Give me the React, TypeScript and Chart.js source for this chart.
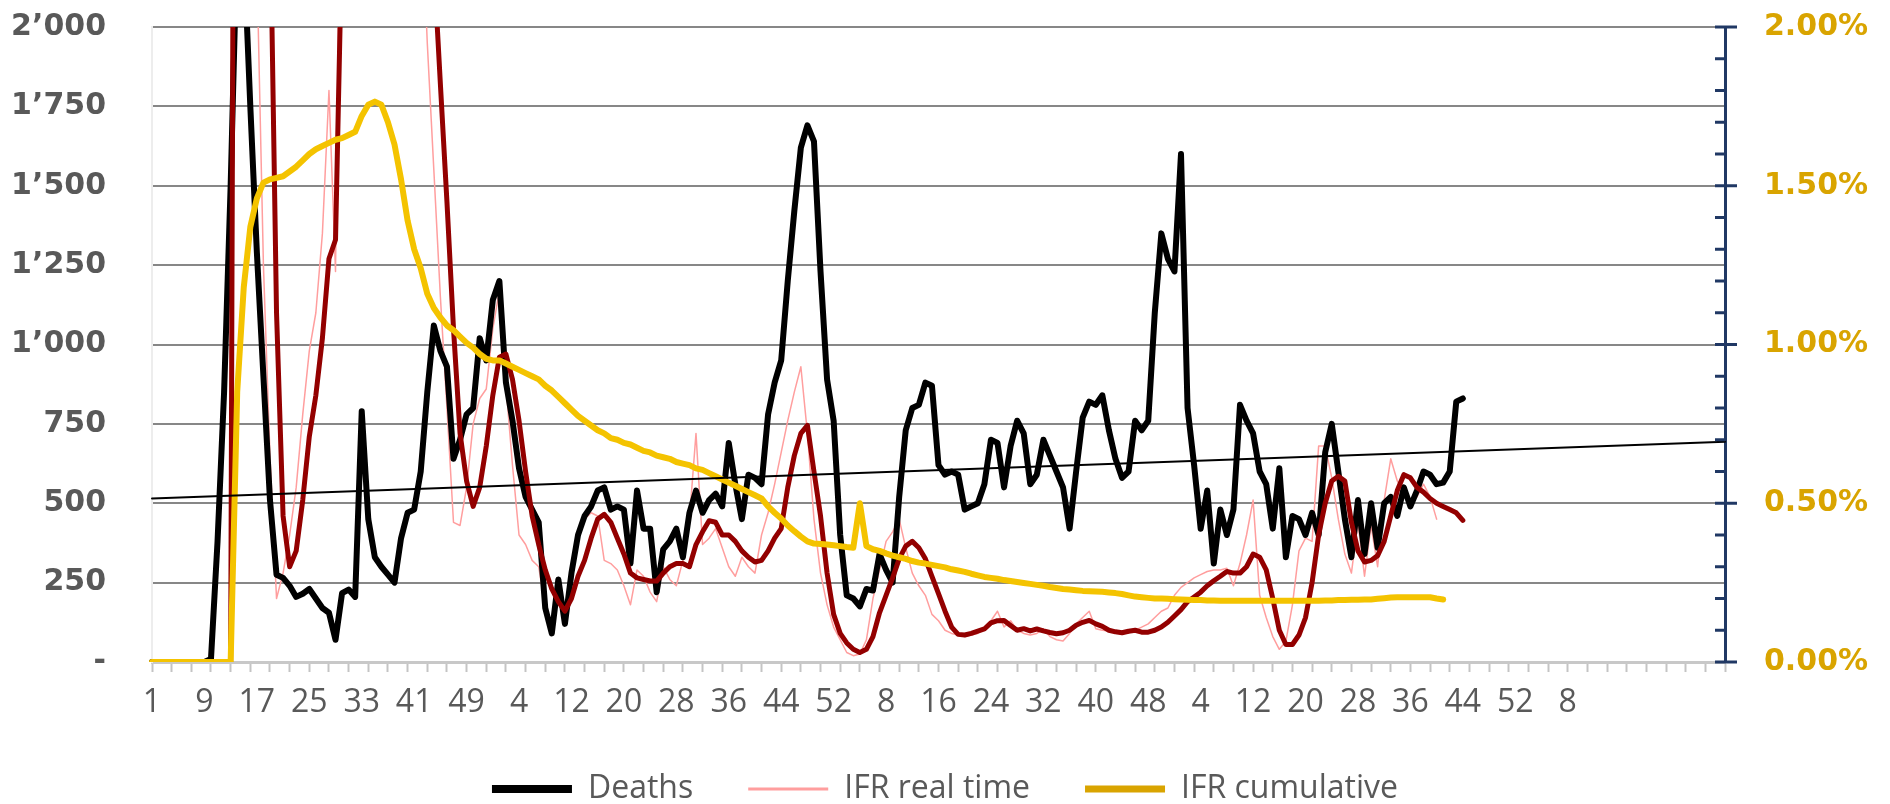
import React, { useEffect, useRef } from "react";
import { Chart, registerables } from "chart.js";

Chart.register(...registerables);

// ---------------- data ----------------
// weekly categories: 2020 (53 weeks), 2021, 2022, 2023 (52 weeks), 2024 up to week 8, then blank slots
const weeksPerYear = [53, 52, 52, 52, 8];
const trailingBlankCategories = 24;
const labelInterval = 8;
const tickMarkInterval = 3;

const categories: string[] = [
  ...weeksPerYear.flatMap((n) => Array.from({ length: n }, (_, k) => String(k + 1))),
  ...Array(trailingBlankCategories).fill(""),
];

// Deaths per week (left axis)
const deaths = [
  0, 0, 0, 0, 0, 0, 0, 0, 0, 10,
  380, 850, 1500, 2300, 2250, 1750, 1290, 900, 510, 275,
  265, 240, 205, 215, 230, 200, 170, 155, 70, 217,
  228, 205, 790, 450, 330, 300, 275, 250, 390, 470,
  480, 600, 850, 1060, 980, 930, 640, 700, 780, 800,
  1020, 950, 1140, 1200, 880, 760, 610, 520, 480, 440,
  170, 90, 260, 120, 280, 400, 460, 490, 540, 550,
  480, 490, 480, 310, 540, 420, 420, 220, 355, 380,
  420, 330, 470, 540, 470, 510, 530, 490, 690, 560,
  450, 590, 580, 560, 780, 880, 950, 1200, 1420, 1620,
  1690, 1640, 1230, 890, 760, 400, 210, 200, 175, 230,
  225, 340, 290, 250, 520, 730, 800, 810, 880, 870,
  620, 590, 600, 590, 480, 490, 500, 560, 700, 690,
  550, 680, 760, 720, 560, 590, 700, 650, 600, 550,
  420, 600, 770, 820, 810, 840, 730, 640, 580, 600,
  760, 730, 760, 1100, 1350, 1270, 1230, 1600, 800, 620,
  420, 540, 310, 480, 400, 480, 810, 760, 720, 600,
  560, 420, 610, 330, 460, 450, 400, 470, 400, 660,
  750, 600, 450, 330, 510, 340, 500, 360, 500, 520,
  460, 550, 490, 540, 600, 590, 560, 565, 600, 820,
  830,
];

// IFR real time, % (right axis)
const ifrRealTime = [
  0, 0, 0, 0, 0, 0, 0, 0, 0, 0,
  0, 0, 0, 8, 6, 4, 2.2, 1.25, 0.65, 0.2,
  0.28, 0.4, 0.55, 0.78, 0.98, 1.1, 1.35, 1.8, 1.23, 3,
  3, 3, 3, 3, 3, 3, 3, 3, 3, 3,
  3, 2.45, 1.95, 1.55, 1.15, 0.8, 0.44, 0.43, 0.55, 0.75,
  0.83, 0.86, 1.05, 1.17, 0.87, 0.62, 0.4, 0.37, 0.32, 0.3,
  0.17, 0.09, 0.25, 0.12, 0.28, 0.4, 0.45, 0.47, 0.46, 0.32,
  0.31, 0.29, 0.24, 0.18, 0.29, 0.27, 0.22, 0.19, 0.3, 0.26,
  0.24, 0.32, 0.45, 0.72, 0.37, 0.39, 0.42, 0.36, 0.3, 0.27,
  0.33, 0.3, 0.28, 0.4, 0.47, 0.56, 0.66, 0.76, 0.85, 0.93,
  0.72, 0.45, 0.28, 0.18, 0.11, 0.07, 0.03, 0.02, 0.025, 0.07,
  0.2, 0.29, 0.38, 0.41, 0.45, 0.36, 0.28, 0.24, 0.21, 0.15,
  0.13, 0.1, 0.09, 0.085, 0.08, 0.085, 0.09, 0.11, 0.13, 0.16,
  0.11, 0.13, 0.1, 0.09, 0.085, 0.09, 0.105, 0.08, 0.07, 0.066,
  0.09, 0.12, 0.14, 0.16, 0.105, 0.1, 0.098, 0.092, 0.092, 0.092,
  0.1, 0.11, 0.12, 0.14, 0.16, 0.17, 0.21, 0.235, 0.25, 0.265,
  0.275, 0.285, 0.29, 0.29, 0.295, 0.24, 0.31, 0.4, 0.51, 0.21,
  0.14, 0.08, 0.04, 0.065, 0.18, 0.35, 0.39, 0.38, 0.68, 0.68,
  0.58, 0.45, 0.34, 0.28, 0.44, 0.27, 0.43, 0.3, 0.51, 0.64,
  0.57, 0.54, 0.51, 0.52, 0.56, 0.52, 0.45,
];

// IFR real time, moving average, % (right axis)
const ifrRealTimeAvg = [
  0, 0, 0, 0, 0, 0, 0, 0, 0, 0,
  0, 0, 0, 6, 6, 5, 4, 3, 2.4, 1.1,
  0.46, 0.3, 0.35, 0.51, 0.71, 0.84, 1.02, 1.27, 1.33, 2.3,
  3, 3, 3, 3, 3, 3, 3, 3, 3, 3,
  3, 3, 3, 2.2, 1.82, 1.45, 1.05, 0.72, 0.57, 0.49,
  0.55, 0.68, 0.84, 0.96, 0.97, 0.89, 0.76, 0.6, 0.46, 0.37,
  0.29, 0.23, 0.19, 0.16, 0.2, 0.27, 0.32, 0.39, 0.45, 0.465,
  0.44, 0.39, 0.34, 0.28, 0.265, 0.26, 0.255, 0.255, 0.28, 0.3,
  0.31, 0.31, 0.3, 0.37, 0.41, 0.445, 0.44, 0.4, 0.4, 0.38,
  0.35, 0.33, 0.315, 0.32, 0.35, 0.39, 0.42, 0.55, 0.65, 0.72,
  0.745, 0.6, 0.46, 0.28, 0.15, 0.09, 0.06, 0.04, 0.03, 0.04,
  0.08, 0.155, 0.21, 0.265, 0.325, 0.365, 0.38, 0.36, 0.325, 0.27,
  0.215, 0.16, 0.11, 0.087, 0.085, 0.09, 0.097, 0.104, 0.123, 0.13,
  0.131, 0.115, 0.1, 0.105, 0.098, 0.104, 0.098, 0.093, 0.089, 0.092,
  0.1, 0.116, 0.125, 0.131, 0.12, 0.112, 0.1, 0.095, 0.092, 0.097,
  0.1, 0.094, 0.094, 0.1, 0.11, 0.125, 0.145, 0.165, 0.19, 0.205,
  0.22, 0.24, 0.256, 0.27, 0.285, 0.28, 0.28, 0.3, 0.34, 0.33,
  0.29, 0.2, 0.1, 0.055, 0.055, 0.085, 0.14, 0.25, 0.4, 0.5,
  0.57, 0.585, 0.57, 0.44, 0.35, 0.315, 0.32, 0.335, 0.38, 0.46,
  0.54, 0.59, 0.58, 0.55, 0.535, 0.515, 0.5, 0.49, 0.48, 0.47,
  0.446,
];

// IFR cumulative, % (right axis)
const ifrCumulative = [
  0, 0, 0, 0, 0, 0, 0, 0, 0, 0,
  0, 0, 0, 0.85, 1.18, 1.37, 1.46, 1.51, 1.52, 1.525,
  1.53, 1.545, 1.56, 1.58, 1.6, 1.615, 1.625, 1.635, 1.645, 1.65,
  1.66, 1.67, 1.72, 1.755, 1.765, 1.755, 1.7, 1.63, 1.52, 1.39,
  1.3, 1.24, 1.16, 1.115, 1.085, 1.06, 1.045, 1.025, 1.005, 0.99,
  0.97, 0.955, 0.95, 0.95, 0.94, 0.93, 0.92, 0.91, 0.9, 0.89,
  0.87, 0.855, 0.835, 0.815, 0.795, 0.775, 0.76, 0.745, 0.73, 0.72,
  0.705, 0.7, 0.69, 0.685, 0.675, 0.665, 0.66, 0.65, 0.645, 0.64,
  0.63, 0.625, 0.62, 0.61, 0.605, 0.595, 0.585, 0.575, 0.565, 0.555,
  0.545, 0.535, 0.525, 0.515, 0.49, 0.47, 0.452, 0.43, 0.412, 0.395,
  0.38, 0.373, 0.372, 0.37, 0.368, 0.365, 0.362, 0.36, 0.5, 0.365,
  0.355, 0.35, 0.342, 0.335, 0.33, 0.325, 0.318, 0.313, 0.31, 0.306,
  0.302, 0.298, 0.292, 0.288, 0.284, 0.278, 0.273, 0.268, 0.265, 0.262,
  0.258, 0.255, 0.252, 0.249, 0.246, 0.243, 0.24, 0.236, 0.233, 0.23,
  0.228, 0.226, 0.224, 0.223, 0.222, 0.221, 0.219, 0.217, 0.214, 0.21,
  0.206, 0.204, 0.202, 0.2, 0.2, 0.199, 0.198, 0.197, 0.196, 0.195,
  0.195, 0.194, 0.194, 0.193, 0.193, 0.193, 0.193, 0.193, 0.193, 0.193,
  0.193, 0.193, 0.193, 0.193, 0.193, 0.193, 0.193, 0.193, 0.193, 0.194,
  0.194, 0.195, 0.195, 0.196, 0.196, 0.197, 0.197, 0.199, 0.201, 0.203,
  0.204, 0.204, 0.204, 0.204, 0.204, 0.204, 0.2, 0.197,
];

// Linear trend of deaths: value at first and at last category
const deathsTrendEnds = [515, 694];

// right axis tick steps (%)
const rightMajorStep = 0.5;
const rightMinorStep = 0.1;

// ---------------- layout / style ----------------
const W = 1890;
const H = 804;
const PLOT_LEFT = 152;
const PLOT_RIGHT = 1725;
const PLOT_TOP = 27;
const PLOT_BOTTOM = 662;
const LEGEND_FONT = 32;
const LEGEND_PAD = 55;
const LEGEND_FIT_HEIGHT = 60;
const LEGEND_TEXT_Y = 789;
const X_AXIS_HEIGHT = H - LEGEND_FIT_HEIGHT - PLOT_BOTTOM;

const GRAY_TEXT = "#595959";
const GOLD_TEXT = "#D9A400";
const NAVY = "#203864";
const GRID = "#878787";
const LEGEND_GOLD = "#D9A400";
const legendSampleWidths = [8, 3, 7];
const CLEAR = "rgba(0,0,0,0)";

const fmtLeft = (v: number) => {
  if (v === 0) return "-";
  if (v >= 1000) return `${Math.floor(v / 1000)}\u2019${String(v % 1000).padStart(3, "0")}`;
  return String(v);
};

const axisDecor = {
  id: "axisDecor",
  beforeDraw(chart: any) {
    // place the legend row close to the bottom edge, as in the original
    const lg = chart.legend;
    if (lg) {
      lg.top = LEGEND_TEXT_Y - LEGEND_PAD - LEGEND_FONT / 2;
      lg.bottom = H;
      lg.height = lg.bottom - lg.top;
    }
  },
  afterDraw(chart: any) {
    const s = chart.scales.y1;
    if (!s) return;
    const ctx = chart.ctx;
    ctx.save();
    ctx.strokeStyle = NAVY;
    ctx.lineWidth = 3;
    const n = Math.round((s.max - s.min) / rightMinorStep);
    const perMajor = Math.round(rightMajorStep / rightMinorStep);
    for (let k = 0; k <= n; k++) {
      const y = s.getPixelForValue(s.min + k * rightMinorStep);
      const major = k % perMajor === 0;
      ctx.beginPath();
      ctx.moveTo(s.left - 10, y);
      ctx.lineTo(major ? s.left + 12 : s.left, y);
      ctx.stroke();
    }
    ctx.restore();
  },
};

export default function App() {
  const ref = useRef<HTMLCanvasElement | null>(null);

  useEffect(() => {
    if (!ref.current) return;
    const last = categories.length - 1;
    const trendData = categories.map((_, i) =>
      i === 0 ? deathsTrendEnds[0] : i === last ? deathsTrendEnds[1] : null
    );

    const chart = new Chart(ref.current, {
      type: "line",
      data: {
        labels: categories,
        datasets: [
          {
            label: "Deaths",
            data: deaths,
            yAxisID: "y",
            borderColor: "#000000",
            backgroundColor: "#000000",
            borderWidth: 6,
            order: 3,
          },
          {
            label: "IFR real time",
            data: ifrRealTime,
            yAxisID: "y1",
            borderColor: "#FF9E9E",
            backgroundColor: "#FF9E9E",
            borderWidth: 1.5,
            order: 4,
          },
          {
            label: "IFR cumulative",
            data: ifrCumulative,
            yAxisID: "y1",
            borderColor: "#F4C300",
            backgroundColor: "#F4C300",
            borderWidth: 6,
            order: 1,
          },
          {
            label: "IFR real time (moving average)",
            data: ifrRealTimeAvg,
            yAxisID: "y1",
            borderColor: "#930000",
            backgroundColor: "#930000",
            borderWidth: 5,
            order: 2,
          },
          {
            label: "Deaths (linear trend)",
            data: trendData,
            yAxisID: "y",
            borderColor: "#000000",
            backgroundColor: "#000000",
            borderWidth: 2,
            spanGaps: true,
            order: 0,
          },
        ],
      },
      options: {
        responsive: false,
        animation: false,
        events: [],
        elements: {
          point: { radius: 0, hoverRadius: 0 },
          line: { tension: 0, borderJoinStyle: "round", borderCapStyle: "round", fill: false },
        },
        layout: { padding: { top: PLOT_TOP, left: 0, right: 0, bottom: 0 } },
        scales: {
          x: {
            type: "category",
            offset: false,
            grid: {
              display: true,
              drawOnChartArea: false,
              drawTicks: true,
              tickLength: 10,
              tickWidth: 2,
              tickColor: (c: any) => (c.index % tickMarkInterval === 0 ? "#C4C4C4" : CLEAR),
            },
            border: { display: true, color: "#C8C8C8", width: 3 },
            ticks: {
              autoSkip: false,
              maxRotation: 0,
              minRotation: 0,
              padding: 12,
              color: GRAY_TEXT,
              font: { family: "'Open Sans', sans-serif", size: 32 },
              callback: (_v: any, i: number) => (i % labelInterval === 0 ? categories[i] : ""),
            },
            afterFit: (s: any) => {
              s.height = X_AXIS_HEIGHT;
            },
          },
          y: {
            position: "left",
            min: 0,
            max: 2000,
            ticks: {
              stepSize: 250,
              padding: 2,
              color: GRAY_TEXT,
              font: { family: "'DejaVu Sans', sans-serif", size: 30, weight: "bold" },
              callback: (v: any) => fmtLeft(Number(v)),
            },
            grid: {
              drawTicks: true,
              tickLength: 44,
              tickColor: CLEAR,
              lineWidth: 2,
              color: (c: any) => (c.tick && c.tick.value === 0 ? CLEAR : GRID),
            },
            border: { display: true, color: "#EDEDED", width: 2 },
            afterFit: (s: any) => {
              s.width = PLOT_LEFT;
            },
          },
          y1: {
            position: "right",
            min: 0,
            max: 2,
            ticks: {
              stepSize: rightMajorStep,
              padding: 2,
              color: GOLD_TEXT,
              font: { family: "'DejaVu Sans', sans-serif", size: 30, weight: "bold" },
              callback: (v: any) => `${Number(v).toFixed(2)}%`,
            },
            grid: {
              drawOnChartArea: false,
              drawTicks: true,
              tickLength: 37,
              tickColor: CLEAR,
            },
            border: { display: true, color: NAVY, width: 3 },
            afterFit: (s: any) => {
              s.width = W - PLOT_RIGHT;
            },
          },
        },
        plugins: {
          tooltip: { enabled: false },
          legend: {
            display: true,
            position: "bottom",
            align: "center",
            maxHeight: LEGEND_FIT_HEIGHT,
            labels: {
              color: GRAY_TEXT,
              font: { family: "'Open Sans', sans-serif", size: LEGEND_FONT },
              usePointStyle: true,
              pointStyle: "line",
              pointStyleWidth: 80,
              padding: LEGEND_PAD,
              filter: (item: any) => item.datasetIndex < 3,
              sort: (a: any, b: any) => a.datasetIndex - b.datasetIndex,
              generateLabels: (c: any) => {
                const items = (Chart.defaults.plugins.legend.labels as any).generateLabels(c);
                return items.map((it: any) => {
                  const lw = legendSampleWidths[it.datasetIndex] ?? it.lineWidth;
                  if (it.datasetIndex === 2) {
                    return { ...it, lineWidth: lw, strokeStyle: LEGEND_GOLD, fillStyle: LEGEND_GOLD };
                  }
                  return { ...it, lineWidth: lw };
                });
              },
            },
          },
        },
      } as any,
      plugins: [axisDecor],
    });

    return () => chart.destroy();
  }, []);

  return (
    <div style={{ position: "fixed", left: 0, top: 0, width: W, height: H, background: "#ffffff" }}>
      <canvas ref={ref} width={W} height={H} style={{ width: W, height: H, display: "block" }} />
    </div>
  );
}
